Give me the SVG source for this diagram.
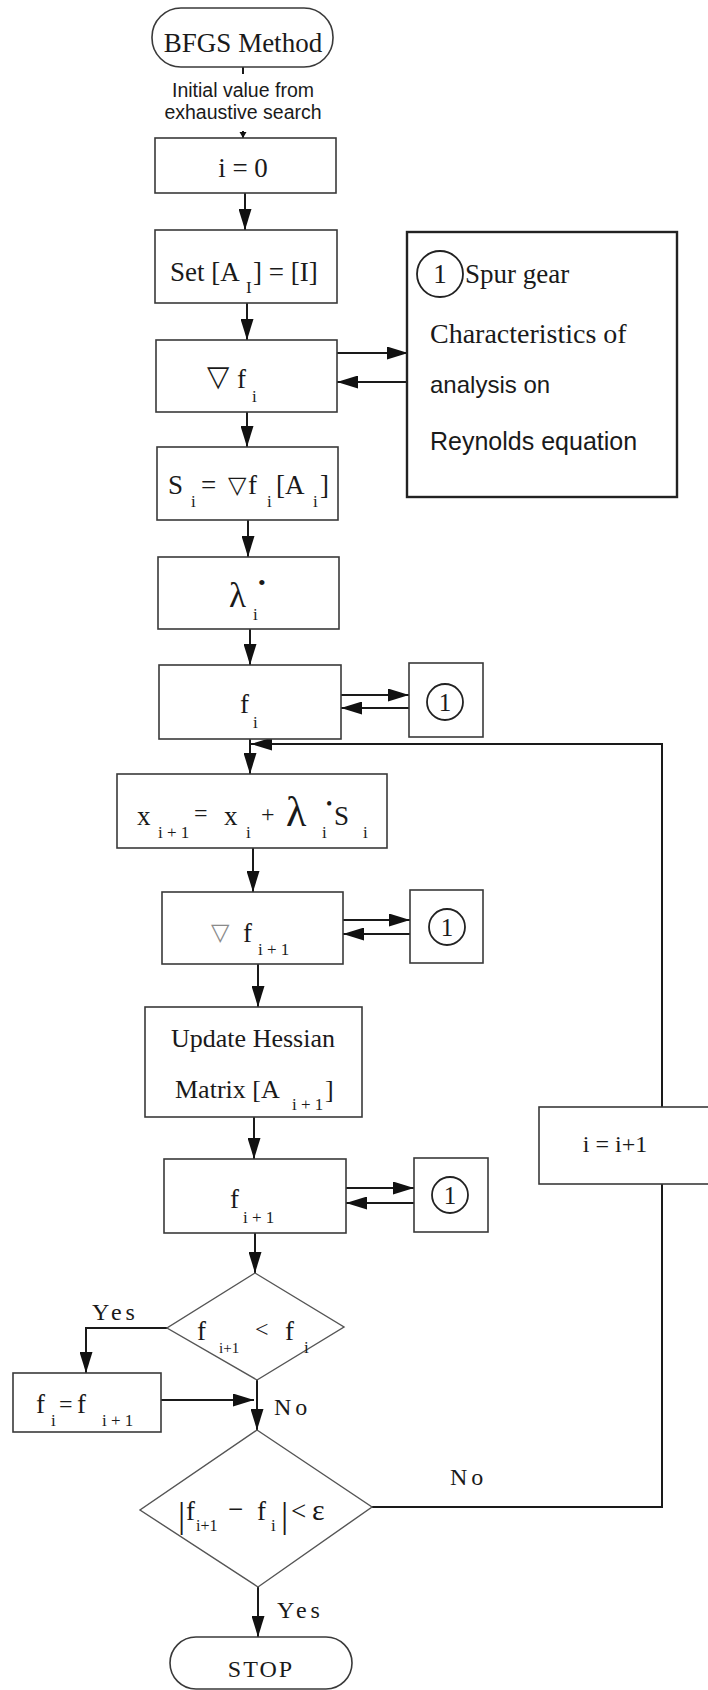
<svg xmlns="http://www.w3.org/2000/svg" width="708" height="1690" viewBox="0 0 708 1690" font-size="27">
<style>
.box{fill:#fff;stroke:#3a3a3a;stroke-width:1.6}
.bigbox{fill:#fff;stroke:#222;stroke-width:2.4}
.dia{fill:#fff;stroke:#555;stroke-width:1.4}
.circ{fill:none;stroke:#222;stroke-width:1.8}
.ln{fill:none;stroke:#1a1a1a;stroke-width:2}
.arr{marker-end:url(#ah)}
text{font-family:"Liberation Serif","Times New Roman",serif;fill:#1a1a1a}
.sans{font-family:"Liberation Sans",Arial,sans-serif}
.tri{font-family:"DejaVu Sans",sans-serif}
.sub{font-size:17px}
.lbl{font-size:24px;letter-spacing:4px}
</style>
<defs>
<marker id="ah" markerUnits="userSpaceOnUse" markerWidth="22" markerHeight="13" refX="21" refY="6.5" orient="auto">
<path d="M0,0 L21,6.5 L0,13 z" fill="#111"/>
</marker>
<marker id="ahs" markerUnits="userSpaceOnUse" markerWidth="8" markerHeight="8" refX="6" refY="3.5" orient="auto">
<path d="M0,0 L6,3.5 L0,7 z" fill="#111"/>
</marker>
</defs>

<g id="connectors">
<line class="ln" x1="243" y1="67" x2="243" y2="74" stroke-width="1.2"/>
<line class="ln" x1="243" y1="131" x2="243" y2="138" stroke-width="1" marker-end="url(#ahs)"/>
<line class="ln arr" x1="245" y1="193" x2="245" y2="230"/>
<line class="ln arr" x1="247" y1="303" x2="247" y2="340"/>
<line class="ln arr" x1="337" y1="353" x2="408" y2="353"/>
<line class="ln arr" x1="408" y1="382" x2="337" y2="382"/>
<line class="ln arr" x1="247" y1="412" x2="247" y2="447"/>
<line class="ln arr" x1="248" y1="520" x2="248" y2="557"/>
<line class="ln arr" x1="250" y1="629" x2="250" y2="665"/>
<line class="ln arr" x1="341" y1="695" x2="409" y2="695"/>
<line class="ln arr" x1="409" y1="708" x2="341" y2="708"/>
<line class="ln arr" x1="250" y1="739" x2="250" y2="774"/>
<polyline class="ln arr" points="372,1507 662,1507 662,744 251,744" stroke-width="1.5"/>
<line class="ln arr" x1="253" y1="848" x2="253" y2="892"/>
<line class="ln arr" x1="343" y1="920" x2="410" y2="920"/>
<line class="ln arr" x1="410" y1="934" x2="343" y2="934"/>
<line class="ln arr" x1="258" y1="964" x2="258" y2="1007"/>
<line class="ln arr" x1="254" y1="1117" x2="254" y2="1159"/>
<line class="ln arr" x1="346" y1="1188" x2="414" y2="1188"/>
<line class="ln arr" x1="414" y1="1203" x2="346" y2="1203"/>
<line class="ln arr" x1="255" y1="1233" x2="255" y2="1273"/>
<polyline class="ln arr" points="167,1328 86,1328 86,1373"/>
<line class="ln arr" x1="161" y1="1400" x2="254" y2="1400"/>
<line class="ln arr" x1="257" y1="1380" x2="257" y2="1430"/>
<line class="ln arr" x1="258" y1="1587" x2="258" y2="1637"/>
<text class="lbl" x="92" y="1320">Yes</text>
<text class="lbl" x="274" y="1415">No</text>
<text class="lbl" x="450" y="1485">No</text>
<text class="lbl" x="277" y="1618">Yes</text>
</g>

<g id="start">
<rect x="152" y="8" width="181" height="59" rx="29" class="box" stroke-width="1.8"/>
<text x="243" y="52" text-anchor="middle">BFGS Method</text>
</g>

<g id="init-label">
<text class="sans" x="243" y="97" text-anchor="middle" font-size="19.5">Initial value from</text>
<text class="sans" x="243" y="119" text-anchor="middle" font-size="19.5">exhaustive search</text>
</g>

<g id="n-i0">
<rect x="155" y="138" width="181" height="55" class="box"/>
<text x="243" y="177" text-anchor="middle">i = 0</text>
</g>

<g id="n-set">
<rect x="155" y="230" width="182" height="73" class="box"/>
<text x="170" y="281">Set [A</text>
<text class="sub" x="246" y="293">I</text>
<text x="253" y="281">] = [I]</text>
</g>

<g id="n-grad">
<rect x="156" y="340" width="181" height="72" class="box"/>
<text class="tri" x="207" y="386" font-size="29">▽</text>
<text x="237" y="388">f</text>
<text class="sub" x="252" y="402">i</text>
</g>

<g id="n-spur">
<rect x="407" y="232" width="270" height="265" class="bigbox"/>
<circle cx="440" cy="274" r="23" class="circ"/>
<text x="440" y="283" text-anchor="middle">1</text>
<text x="465" y="283">Spur gear</text>
<text x="430" y="343" font-size="28">Characteristics of</text>
<text class="sans" x="430" y="393" font-size="24">analysis on</text>
<text class="sans" x="430" y="450" font-size="25">Reynolds equation</text>
</g>

<g id="n-s">
<rect x="157" y="447" width="181" height="73" class="box"/>
<text x="168" y="494">S</text>
<text class="sub" x="191" y="507">i</text>
<text x="201" y="494">=</text>
<text class="tri" x="228" y="493" font-size="24">▽</text>
<text x="248" y="494">f</text>
<text class="sub" x="267" y="507">i</text>
<text x="276" y="494">[A</text>
<text class="sub" x="313" y="507">i</text>
<text x="320" y="494">]</text>
</g>

<g id="n-lambda">
<rect x="158" y="557" width="181" height="72" class="box"/>
<text x="229" y="607" font-size="35">λ</text>
<text class="sub" x="253" y="620">i</text>
<text x="258" y="590" font-size="22">•</text>
</g>

<g id="n-fi">
<rect x="159" y="665" width="182" height="74" class="box"/>
<text x="240" y="713">f</text>
<text class="sub" x="253" y="728">i</text>
</g>

<g id="n-ref1">
<rect x="409" y="663" width="74" height="74" class="box"/>
<circle cx="445" cy="702" r="18" class="circ" stroke-width="1.4"/>
<text x="445" y="711" text-anchor="middle" font-size="25">1</text>
</g>

<g id="n-x">
<rect x="117" y="774" width="270" height="74" class="box"/>
<text x="137" y="825">x</text>
<text class="sub" x="158" y="838" xml:space="preserve">i + 1</text>
<text x="194" y="821" font-size="24">=</text>
<text x="224" y="825">x</text>
<text class="sub" x="246" y="838">i</text>
<text x="261" y="822" font-size="24">+</text>
<text x="286" y="826" font-size="42">λ</text>
<text class="sub" x="322" y="838">i</text>
<text x="326" y="810" font-size="18">•</text>
<text x="334" y="825">S</text>
<text class="sub" x="363" y="838">i</text>
</g>

<g id="n-grad1">
<rect x="162" y="892" width="181" height="72" class="box"/>
<text class="tri" x="211" y="940" font-size="24" style="fill:#8a8a8a">▽</text>
<text x="243" y="942">f</text>
<text class="sub" x="258" y="955" xml:space="preserve">i + 1</text>
</g>

<g id="n-ref2">
<rect x="410" y="890" width="73" height="73" class="box"/>
<circle cx="447" cy="927" r="18" class="circ" stroke-width="1.4"/>
<text x="447" y="936" text-anchor="middle" font-size="25">1</text>
</g>

<g id="n-hess">
<rect x="145" y="1007" width="217" height="110" class="box"/>
<text x="253" y="1047" text-anchor="middle" font-size="26">Update Hessian</text>
<text x="175" y="1098" font-size="26">Matrix [A</text>
<text class="sub" x="292" y="1110" xml:space="preserve">i + 1</text>
<text x="325" y="1098" font-size="26">]</text>
</g>

<g id="n-fi1">
<rect x="164" y="1159" width="182" height="74" class="box"/>
<text x="230" y="1208">f</text>
<text class="sub" x="243" y="1223" xml:space="preserve">i + 1</text>
</g>

<g id="n-ref3">
<rect x="414" y="1158" width="74" height="74" class="box"/>
<circle cx="450" cy="1195" r="18" class="circ" stroke-width="1.4"/>
<text x="450" y="1204" text-anchor="middle" font-size="25">1</text>
</g>

<g id="n-cmp">
<polygon points="255,1273 344,1327 257,1380 167,1328" class="dia"/>
<text x="197" y="1340">f</text>
<text x="219" y="1353" style="font-size:15px">i+1</text>
<text x="255" y="1337" font-size="24">&lt;</text>
<text x="285" y="1340">f</text>
<text class="sub" x="304" y="1353">i</text>
</g>

<g id="n-assign">
<rect x="13" y="1373" width="148" height="59" class="box"/>
<text x="36" y="1413">f</text>
<text class="sub" x="51" y="1426">i</text>
<text x="59" y="1412" font-size="24">=</text>
<text x="77" y="1413">f</text>
<text class="sub" x="102" y="1426" xml:space="preserve">i + 1</text>
</g>

<g id="n-conv">
<polygon points="257,1430 372,1507 258,1587 140,1510" class="dia"/>
<text x="178" y="1527" font-size="36">|</text>
<text x="186" y="1520">f</text>
<text x="196" y="1531" style="font-size:16px">i+1</text>
<text x="228" y="1518">−</text>
<text x="257" y="1520">f</text>
<text class="sub" x="271" y="1531">i</text>
<text x="281" y="1527" font-size="36">|</text>
<text x="291" y="1520">&lt;</text>
<text x="312" y="1520" font-size="30">ε</text>
</g>

<g id="n-inc">
<rect x="539" y="1107" width="175" height="77" class="box"/>
<text x="615" y="1152" text-anchor="middle" font-size="24">i = i+1</text>
</g>

<g id="stop">
<rect x="170" y="1637" width="182" height="52" rx="26" class="box"/>
<text x="261" y="1677" text-anchor="middle" font-size="24" letter-spacing="2">STOP</text>
</g>
</svg>
